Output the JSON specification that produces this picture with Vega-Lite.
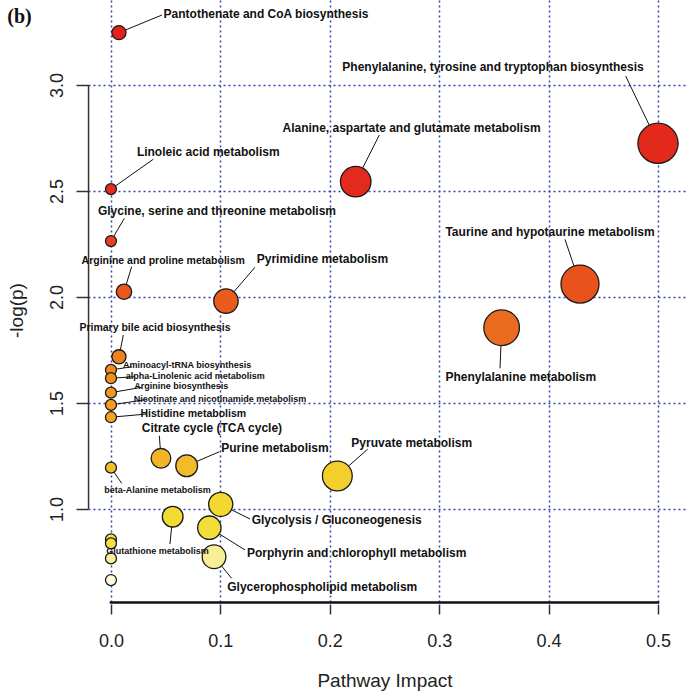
{
  "$schema": "https://vega.github.io/schema/vega-lite/v6.json",
  "width": 598,
  "height": 604,
  "autosize": {"type": "none"},
  "padding": {"left": 88, "top": 0, "right": 0, "bottom": 90},
  "background": "white",
  "config": {"view": {"stroke": null}},
  "datasets": {
    "pts": [
      {"name": "Pantothenate and CoA biosynthesis", "impact": 0.0073, "logp": 3.247, "lx": 0.1417, "ly": 3.335, "ax": 0.0466, "ay": 3.330, "tier": "L"},
      {"name": "Phenylalanine, tyrosine and tryptophan biosynthesis", "impact": 0.5, "logp": 2.725, "lx": 0.3492, "ly": 3.086, "ax": 0.4705, "ay": 3.042, "tier": "L"},
      {"name": "Alanine, aspartate and glutamate metabolism", "impact": 0.2237, "logp": 2.544, "lx": 0.2747, "ly": 2.796, "ax": 0.2453, "ay": 2.764, "tier": "L"},
      {"name": "Linoleic acid metabolism", "impact": 0, "logp": 2.509, "lx": 0.0889, "ly": 2.685, "ax": 0.0387, "ay": 2.650, "tier": "L"},
      {"name": "Glycine, serine and threonine metabolism", "impact": 0, "logp": 2.264, "lx": 0.0969, "ly": 2.407, "ax": 0.0122, "ay": 2.371, "tier": "L"},
      {"name": "Taurine and hypotaurine metabolism", "impact": 0.4287, "logp": 2.061, "lx": 0.4013, "ly": 2.305, "ax": 0.4150, "ay": 2.272, "tier": "L"},
      {"name": "Arginine and proline metabolism", "impact": 0.0119, "logp": 2.025, "lx": 0.0478, "ly": 2.170, "ax": 0.0189, "ay": 2.143, "tier": "M"},
      {"name": "Pyrimidine metabolism", "impact": 0.1051, "logp": 1.981, "lx": 0.1933, "ly": 2.179, "ax": 0.1316, "ay": 2.140, "tier": "L"},
      {"name": "Phenylalanine metabolism", "impact": 0.3571, "logp": 1.855, "lx": 0.3746, "ly": 1.624, "ax": 0.3556, "ay": 1.664, "tier": "L"},
      {"name": "Primary bile acid biosynthesis", "impact": 0.0073, "logp": 1.718, "lx": 0.0402, "ly": 1.855, "ax": 0.0113, "ay": 1.821, "tier": "M"},
      {"name": "Aminoacyl-tRNA biosynthesis", "impact": 0, "logp": 1.656, "lx": 0.0696, "ly": 1.681, "ax": 0.0189, "ay": 1.671, "tier": "S"},
      {"name": "alpha-Linolenic acid metabolism", "impact": 0, "logp": 1.617, "lx": 0.0771, "ly": 1.629, "ax": 0.0219, "ay": 1.624, "tier": "S"},
      {"name": "Arginine biosynthesis", "impact": 0, "logp": 1.549, "lx": 0.0643, "ly": 1.580, "ax": 0.0280, "ay": 1.574, "tier": "S"},
      {"name": "Nicotinate and nicotinamide metabolism", "impact": 0, "logp": 1.491, "lx": 0.0996, "ly": 1.520, "ax": 0.0332, "ay": 1.517, "tier": "S"},
      {"name": "Histidine metabolism", "impact": 0, "logp": 1.433, "lx": 0.0752, "ly": 1.447, "ax": 0.0326, "ay": 1.448, "tier": "M"},
      {"name": "Citrate cycle (TCA cycle)", "impact": 0.0457, "logp": 1.239, "lx": 0.0923, "ly": 1.381, "ax": 0.0442, "ay": 1.346, "tier": "L"},
      {"name": "Purine metabolism", "impact": 0.0692, "logp": 1.204, "lx": 0.1499, "ly": 1.289, "ax": 0.0990, "ay": 1.270, "tier": "L"},
      {"name": "Pyruvate metabolism", "impact": 0.2069, "logp": 1.156, "lx": 0.2749, "ly": 1.310, "ax": 0.2346, "ay": 1.282, "tier": "L"},
      {"name": "beta-Alanine metabolism", "impact": 0, "logp": 1.195, "lx": 0.0425, "ly": 1.090, "ax": 0.0098, "ay": 1.121, "tier": "S"},
      {"name": "Glycolysis / Gluconeogenesis", "impact": 0.1003, "logp": 1.022, "lx": 0.2063, "ly": 0.948, "ax": 0.1271, "ay": 0.953, "tier": "L"},
      {"name": "Glutathione metabolism", "impact": 0.0564, "logp": 0.964, "lx": 0.0425, "ly": 0.803, "ax": 0.0539, "ay": 0.835, "tier": "S"},
      {"name": "Porphyrin and chlorophyll metabolism", "impact": 0.0899, "logp": 0.912, "lx": 0.2246, "ly": 0.791, "ax": 0.1225, "ay": 0.807, "tier": "L"},
      {"name": "Glycerophospholipid metabolism", "impact": 0.0942, "logp": 0.775, "lx": 0.1931, "ly": 0.633, "ax": 0.1103, "ay": 0.673, "tier": "L"},
      {"name": "", "impact": 0, "logp": 0.857, "lx": null, "ly": null, "ax": null, "ay": null, "tier": "S"},
      {"name": "", "impact": 0, "logp": 0.838, "lx": null, "ly": null, "ax": null, "ay": null, "tier": "S"},
      {"name": "", "impact": 0, "logp": 0.767, "lx": null, "ly": null, "ax": null, "ay": null, "tier": "S"},
      {"name": "", "impact": 0, "logp": 0.665, "lx": null, "ly": null, "ax": null, "ay": null, "tier": "S"}
    ]
  },
  "layer": [
    {
      "data": {"name": "pts"},
      "transform": [{"filter": "datum.ax != null"}],
      "mark": {"type": "rule", "color": "#111111", "strokeWidth": 1},
      "encoding": {
        "x": {
          "field": "impact", "type": "quantitative",
          "scale": {"domain": [-0.021, 0.5256], "nice": false, "zero": false},
          "axis": {
            "values": [0, 0.1, 0.2, 0.3, 0.4, 0.5], "format": ".1f",
            "domain": false, "grid": true, "gridColor": "#2f45b0", "gridDash": [2, 3], "gridWidth": 1.5, "gridOpacity": 1,
            "ticks": true, "tickSize": 10, "tickColor": "#333333", "tickWidth": 1.5,
            "labelFont": "Liberation Sans", "labelFontSize": 18, "labelColor": "#222222", "labelPadding": 18,
            "labelFlush": false, "labelOverlap": false,
            "title": "Pathway Impact", "titleFont": "Liberation Sans", "titleFontSize": 19, "titleFontWeight": "normal",
            "titleColor": "#222222", "titleX": 296.5, "titleY": 82, "titleAlign": "center", "titleBaseline": "alphabetic"
          }
        },
        "y": {
          "field": "logp", "type": "quantitative",
          "scale": {"domain": [0.552, 3.401], "nice": false, "zero": false},
          "axis": {
            "values": [1, 1.5, 2, 2.5, 3], "format": ".1f",
            "domain": false, "grid": true, "gridColor": "#2f45b0", "gridDash": [2, 3], "gridWidth": 1.5, "gridOpacity": 1,
            "ticks": true, "tickSize": 12, "tickColor": "#333333", "tickWidth": 1.5,
            "labelFont": "Liberation Sans", "labelFontSize": 18, "labelColor": "#222222", "labelPadding": 14,
            "labelAngle": -90, "labelAlign": "center", "labelBaseline": "alphabetic", "labelOverlap": false,
            "title": "-log(p)", "titleFont": "Liberation Sans", "titleFontSize": 19, "titleFontWeight": "normal",
            "titleColor": "#222222", "titleAngle": -90, "titleX": -66, "titleY": 310, "titleAlign": "center", "titleBaseline": "alphabetic"
          }
        },
        "x2": {"field": "ax"},
        "y2": {"field": "ay"}
      }
    },
    {
      "data": {"values": [{"xa": -0.0205, "ya": 1, "yb": 3}]},
      "mark": {"type": "rule", "color": "#333333", "strokeWidth": 1.5},
      "encoding": {
        "x": {"field": "xa", "type": "quantitative"},
        "y": {"field": "ya", "type": "quantitative"},
        "y2": {"field": "yb"}
      }
    },
    {
      "data": {"values": [{"xs": 0, "xe": 0.5, "yh": 0.559}]},
      "mark": {"type": "rule", "color": "#111111", "strokeWidth": 2.5, "strokeCap": "square", "opacity": 1},
      "encoding": {
        "x": {"field": "xs", "type": "quantitative"},
        "x2": {"field": "xe"},
        "y": {"field": "yh", "type": "quantitative"}
      }
    },
    {
      "data": {"name": "pts"},
      "mark": {"type": "point", "shape": "circle", "filled": true, "stroke": "#1a1a1a", "strokeWidth": 1.3, "opacity": 1},
      "encoding": {
        "x": {"field": "impact", "type": "quantitative"},
        "y": {"field": "logp", "type": "quantitative"},
        "size": {
          "field": "impact", "type": "quantitative", "legend": null,
          "scale": {"type": "linear", "domain": [0, 0.01, 0.05, 0.1, 0.2, 0.3, 0.4, 0.5], "range": [121, 228, 408, 581, 870, 1129, 1376, 1616]}
        },
        "fill": {
          "field": "logp", "type": "quantitative", "legend": null,
          "scale": {
            "type": "linear",
            "domain": [0.66, 0.77, 0.84, 0.95, 1.15, 1.21, 1.45, 1.66, 1.86, 2.05, 2.27, 2.5, 3.25],
            "range": ["#fffbe2", "#f8ef9c", "#f5e043", "#f2dc34", "#f3d22c", "#f2b828", "#f2a322", "#ef8a20", "#eb6a1e", "#e8541c", "#e5401c", "#e22c1c", "#e2201c"]
          }
        }
      }
    },
    {
      "data": {"name": "pts"},
      "transform": [{"filter": "datum.lx != null"}],
      "mark": {"type": "text", "font": "Liberation Sans", "fontWeight": "bold", "color": "#111111", "align": "center", "baseline": "middle"},
      "encoding": {
        "x": {"field": "lx", "type": "quantitative"},
        "y": {"field": "ly", "type": "quantitative"},
        "text": {"field": "name"},
        "size": {"field": "tier", "type": "nominal", "legend": null, "scale": {"domain": ["L", "M", "S"], "range": [12, 9, 7.5]}}
      }
    },
    {
      "data": {"values": [{"panel": "(b)", "px": -0.0836, "py": 3.321}]},
      "mark": {"type": "text", "font": "Liberation Serif", "fontWeight": "bold", "fontSize": 20, "color": "#111111", "align": "center", "baseline": "middle"},
      "encoding": {
        "x": {"field": "px", "type": "quantitative"},
        "y": {"field": "py", "type": "quantitative"},
        "text": {"field": "panel"}
      }
    }
  ],
  "resolve": {"scale": {"size": "independent"}}
}
